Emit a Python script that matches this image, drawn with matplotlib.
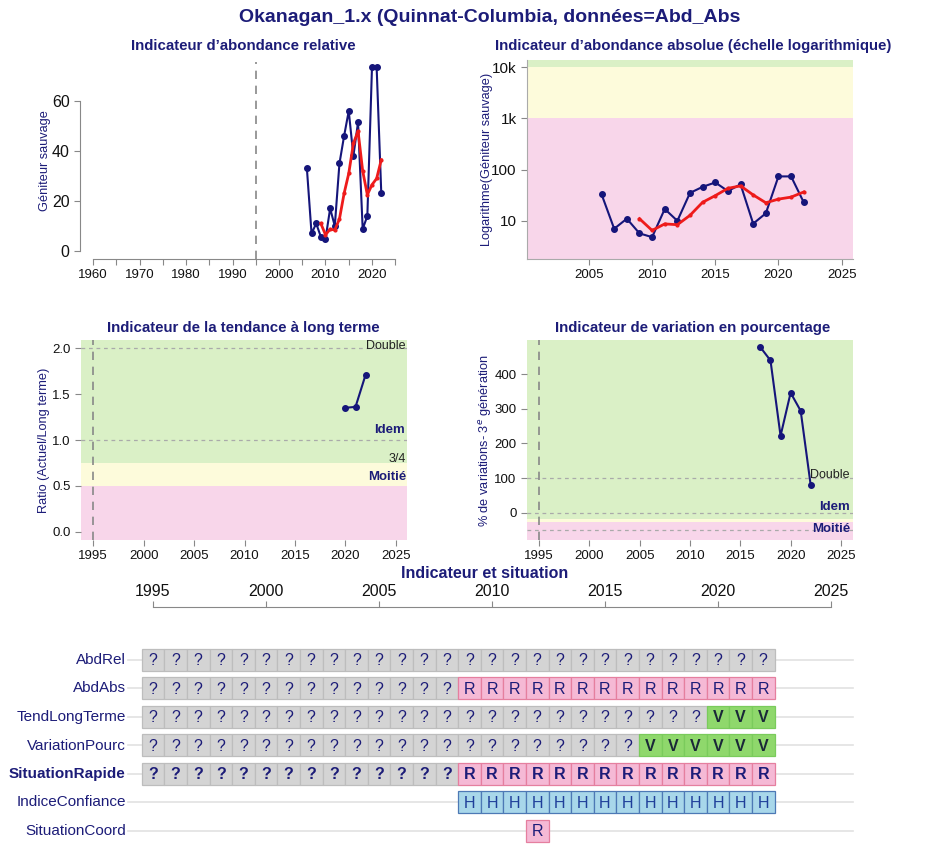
import matplotlib
matplotlib.use("Agg")
import matplotlib.pyplot as plt
from matplotlib.patches import Rectangle

plt.rcParams['font.family'] = ['Liberation Sans', 'DejaVu Sans']

# ---------------- data ----------------
years_abd = [2006, 2007, 2008, 2009, 2010, 2011, 2012, 2013, 2014, 2015, 2016, 2017, 2018, 2019, 2020, 2021, 2022]
abd = [33, 7, 11, 5.7, 4.8, 17, 10, 35, 46, 56, 38, 51.5, 8.8, 14, 73.5, 73.5, 23]
years_gm = [2009, 2010, 2011, 2012, 2013, 2014, 2015, 2016, 2017, 2018, 2019, 2020, 2021, 2022]
gm = [11, 6.5, 8.7, 8.4, 12.8, 23, 31, 43, 48, 32, 22.5, 26.5, 29, 36.5]
years_ratio = [2020, 2021, 2022]
ratio = [1.35, 1.36, 1.71]
years_pct = [2017, 2018, 2019, 2020, 2021, 2022]
pct = [477, 439, 222, 346, 294, 79]

status_years = list(range(1995, 2023))
status_rows = ["AbdRel", "AbdAbs", "TendLongTerme", "VariationPourc", "SituationRapide", "IndiceConfiance", "SituationCoord"]
status_codes = [
    "????????????????????????????",
    "??????????????RRRRRRRRRRRRRR",
    "?????????????????????????VVV",
    "??????????????????????VVVVVV",
    "??????????????RRRRRRRRRRRRRR",
    "              HHHHHHHHHHHHHH",
    "                 R          ",
]

# ---------------- styling ----------------
W, H = 936, 855
NAVY = '#1c1c78'
GREEN = '#daf0c6'
YELLOW = '#fdfbdb'
PINK = '#f8d6ea'

fig = plt.figure(figsize=(W / 100, H / 100), dpi=100)


def px_axes(x0, y0, x1, y1):
    return fig.add_axes([x0 / W, 1 - y1 / H, (x1 - x0) / W, (y1 - y0) / H])


def style_ticks(ax, ysize=9.5):
    ax.tick_params(axis='both', labelsize=9.5, colors='#888888', length=4, width=0.8)
    ax.tick_params(axis='y', labelsize=ysize)
    for t in ax.get_xticklabels() + ax.get_yticklabels():
        t.set_color('#111111')


fig.text(490 / W, 1 - 18 / H, "Okanagan_1.x (Quinnat-Columbia, données=Abd_Abs",
         ha='center', va='center', fontsize=14, fontweight='bold', color=NAVY)

# ---------- top-left: relative abundance ----------
ax1 = px_axes(80, 62, 405, 259)
ax1.set_xlim(1957.2, 2027.1)
ax1.set_ylim(-3.2, 75.6)
ax1.axvline(1995, color='#888888', ls=(0, (5, 4)), lw=1.2)
ax1.plot(years_abd, abd, color='#15157a', lw=1.5, marker='o', ms=4)
ax1.plot(years_gm, gm, color='#ee1b1b', lw=2, marker='o', ms=2)
for s in ['top', 'right']:
    ax1.spines[s].set_visible(False)
ax1.spines['left'].set_bounds(0, 60)
ax1.spines['bottom'].set_bounds(1960, 2025)
for s in ['left', 'bottom']:
    ax1.spines[s].set_color('#888888')
ax1.set_xticks(range(1960, 2026, 5))
ax1.set_xticklabels([str(y) if y % 10 == 0 else '' for y in range(1960, 2026, 5)])
ax1.set_yticks([0, 20, 40, 60])
style_ticks(ax1, ysize=11.5)
ax1.set_ylabel("Géniteur sauvage", color=NAVY, fontsize=9.2)
ax1.yaxis.set_label_coords(-0.09, 0.5)
ax1.set_facecolor('none')
fig.text(243 / W, 1 - 46 / H, "Indicateur d\u2019abondance relative", ha='center', va='center',
         fontsize=10.8, fontweight='bold', color=NAVY)

# ---------- top-right: absolute abundance (log) ----------
ax2 = px_axes(527, 60, 853, 259)
ax2.set_yscale('log')
ax2.set_xlim(2000.1, 2025.9)
ax2.set_ylim(1.8, 13700)
ax2.axhspan(1e4, 13700, color=GREEN, lw=0)
ax2.axhspan(1e3, 1e4, color=YELLOW, lw=0)
ax2.axhspan(1.8, 1e3, color=PINK, lw=0)
ax2.plot(years_abd, abd, color='#15157a', lw=1.5, marker='o', ms=4)
ax2.plot(years_gm, gm, color='#ee1b1b', lw=2, marker='o', ms=2)
ax2.set_yticks([10, 100, 1000, 10000])
ax2.set_yticklabels(['10', '100', '1k', '10k'])
ax2.minorticks_off()
ax2.set_xticks([2005, 2010, 2015, 2020, 2025])
for s in ['top', 'right']:
    ax2.spines[s].set_visible(False)
for s in ['left', 'bottom']:
    ax2.spines[s].set_color('#aaaaaa')
style_ticks(ax2, ysize=11)
ax2.set_ylabel("Logarithme(Géniteur sauvage)", color=NAVY, fontsize=9.2)
ax2.yaxis.set_label_coords(-0.105, 0.5)
fig.text(693 / W, 1 - 46 / H, "Indicateur d\u2019abondance absolue (échelle logarithmique)", ha='center',
         va='center', fontsize=10.8, fontweight='bold', color=NAVY)

# ---------- middle-left: long term trend ----------
ax3 = px_axes(81, 340, 407, 540)
ax3.set_xlim(1993.8, 2026.1)
ax3.set_ylim(-0.087, 2.087)
ax3.axhspan(0.75, 2.087, color=GREEN, lw=0)
ax3.axhspan(0.5, 0.75, color=YELLOW, lw=0)
ax3.axhspan(-0.087, 0.5, color=PINK, lw=0)
ax3.axhline(2.0, color='#aaaaaa', ls=(0, (3, 3)), lw=0.9)
ax3.axhline(1.0, color='#aaaaaa', ls=(0, (3, 3)), lw=0.9)
ax3.axvline(1995, color='#888888', ls=(0, (5, 4)), lw=1.2)
ax3.plot(years_ratio, ratio, color='#15157a', lw=1.5, marker='o', ms=4)
ax3.text(2026.0, 2.02, "Double", ha='right', va='center', fontsize=9, color='#222222')
ax3.text(2025.9, 1.04, "Idem", ha='right', va='bottom', fontsize=9.5, fontweight='bold', color=NAVY)
ax3.text(2026.0, 0.79, "3/4", ha='right', va='center', fontsize=9, color='#222222')
ax3.text(2026.0, 0.6, "Moitié", ha='right', va='center', fontsize=9.5, fontweight='bold', color=NAVY)
ax3.set_yticks([0.0, 0.5, 1.0, 1.5, 2.0])
ax3.set_yticklabels(['0.0', '0.5', '1.0', '1.5', '2.0'])
ax3.set_xticks(range(1995, 2026, 5))
for s in ax3.spines.values():
    s.set_visible(False)
style_ticks(ax3)
ax3.set_ylabel("Ratio (Actuel/Long terme)", color=NAVY, fontsize=9.2)
ax3.yaxis.set_label_coords(-0.095, 0.5)
fig.text(243 / W, 1 - 328 / H, "Indicateur de la tendance à long terme", ha='center', va='center',
         fontsize=10.8, fontweight='bold', color=NAVY)

# ---------- middle-right: percent change ----------
ax4 = px_axes(527, 340, 853, 540)
ax4.set_xlim(1993.8, 2026.2)
ax4.set_ylim(-78, 498)
ax4.axhspan(-17, 498, color=GREEN, lw=0)
ax4.axhspan(-26, -17, color=YELLOW, lw=0)
ax4.axhspan(-78, -26, color=PINK, lw=0)
for yv in [100, 0, -50]:
    ax4.axhline(yv, color='#aaaaaa', ls=(0, (3, 3)), lw=0.9)
ax4.axvline(1995, color='#888888', ls=(0, (5, 4)), lw=1.2)
ax4.plot(years_pct, pct, color='#15157a', lw=1.5, marker='o', ms=4)
ax4.text(2025.9, 110, "Double", ha='right', va='center', fontsize=9, color='#222222')
ax4.text(2025.9, 18, "Idem", ha='right', va='center', fontsize=9.5, fontweight='bold', color=NAVY)
ax4.text(2025.9, -46, "Moitié", ha='right', va='center', fontsize=9.5, fontweight='bold', color=NAVY)
ax4.set_yticks([0, 100, 200, 300, 400])
ax4.set_xticks(range(1995, 2026, 5))
for s in ax4.spines.values():
    s.set_visible(False)
style_ticks(ax4)
ax4.set_ylabel("% de variations- 3$^{e}$ génération", color=NAVY, fontsize=9.2)
ax4.yaxis.set_label_coords(-0.1, 0.5)
fig.text(693 / W, 1 - 328 / H, "Indicateur de variation en pourcentage", ha='center', va='center',
         fontsize=10.8, fontweight='bold', color=NAVY)

# ---------- bottom: status grid ----------
fig.text(485 / W, 1 - 573 / H, "Indicateur et situation", ha='center', va='center',
         fontsize=11.5, fontweight='bold', color=NAVY)

top_px = 607
ax5 = px_axes(125, top_px, 860, 850)
px_per_year = 22.6
px_per_row = 28.5
ax5.set_xlim(1995 - (153 - 125) / px_per_year, 2025 + (860 - 831) / px_per_year)
ax5.set_ylim(6 + (850 - 831) / px_per_row, -(660 - top_px) / px_per_row)
for s in ['left', 'right', 'bottom']:
    ax5.spines[s].set_visible(False)
ax5.spines['top'].set_bounds(1995, 2025)
ax5.spines['top'].set_color('#888888')
ax5.xaxis.tick_top()
ax5.set_xticks(range(1995, 2026, 5))
ax5.tick_params(axis='x', labelsize=11.5, colors='#888888', length=4, pad=2)
for t in ax5.get_xticklabels():
    t.set_color('#111111')
ax5.set_yticks([])

styles = {
    '?': ('#d4d4d4', '#bdbdbd', NAVY),
    'R': ('#f5b9d5', '#e57f9f', NAVY),
    'V': ('#8fd86c', '#7acb5c', '#1a2838'),
    'H': ('#a8d7ea', '#4d79b5', '#1f3f9a'),
}
line_x0 = 1995 - (153 - 128) / px_per_year
line_x1 = 1995 + (853 - 153) / px_per_year
cell_h = 22 / px_per_row
for r, (name, codes) in enumerate(zip(status_rows, status_codes)):
    ax5.plot([line_x0, line_x1], [r, r], color='#e2e2e2', lw=1.2, zorder=1, clip_on=False)
    bold_row = name == "SituationRapide"
    ax5.text(line_x0 - 0.1, r, name, ha='right', va='center', fontsize=11, color=NAVY,
             fontweight='bold' if bold_row else 'normal', clip_on=False)
    for yr, c in zip(status_years, codes):
        if c == ' ':
            continue
        fc, ec, tc = styles[c]
        ax5.add_patch(Rectangle((yr - 0.5, r - cell_h / 2), 1, cell_h, facecolor=fc, edgecolor=ec,
                                lw=0.9, zorder=2))
        weight = 'bold' if (bold_row or c == 'V') else 'normal'
        ax5.text(yr, r + 0.02, c, ha='center', va='center', fontsize=11.5, color=tc,
                 fontweight=weight, zorder=3)

fig.savefig("out.png", dpi=100)
